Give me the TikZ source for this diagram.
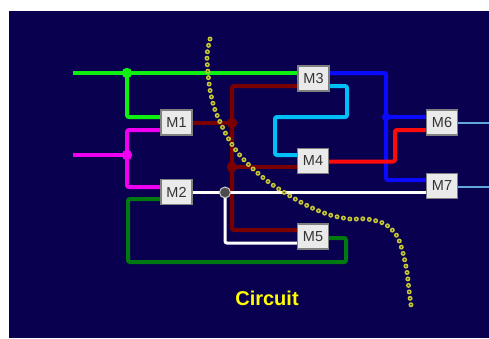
\documentclass[tikz,border=0pt]{standalone}
\usepackage{fontspec}
\setmainfont{Liberation Sans}
\usetikzlibrary{backgrounds}
\definecolor{bg}{HTML}{0A0050}
\definecolor{cgreen}{HTML}{10F010}
\definecolor{cmag}{HTML}{F000F0}
\definecolor{cdred}{HTML}{7A0000}
\definecolor{ccyan}{HTML}{00C0F8}
\definecolor{cblue}{HTML}{0A0AFF}
\definecolor{cred}{HTML}{FF0A0A}
\definecolor{cdgreen}{HTML}{007A10}
\definecolor{cout}{HTML}{60A8D8}
\definecolor{dotyel}{HTML}{C8C83C}
\definecolor{dotin}{HTML}{3C3C00}
\definecolor{boxfill}{HTML}{EAEAEA}
\definecolor{boxline}{HTML}{808080}
\definecolor{cyel}{HTML}{FFFF00}
\tikzset{
  mbox/.style={draw=boxline, line width=1.3pt, fill=boxfill, minimum width=31pt, minimum height=25pt, inner sep=0pt, text=black!80, font=\fontsize{14.5}{16}\selectfont},
  wire/.style={line width=4pt, rounded corners=2pt},
  jdot/.style={circle, inner sep=0pt, minimum size=10.5pt},
  dotpath/.style={line width=5pt, line cap=round, dash pattern=on 0pt off 6.5pt},
}
\begin{document}
\begin{tikzpicture}[x=1pt,y=-1pt]
\useasboundingbox (0,0) rectangle (489,338);

% nodes (boxes)
\node[mbox] (M1) at (176.5,122.5) {M1};
\node[mbox] (M2) at (176.5,192) {M2};
\node[mbox] (M3) at (313.5,78.5) {M3};
\node[mbox] (M4) at (313,161) {M4};
\node[mbox] (M5) at (313,236.5) {M5};
\node[mbox] (M6) at (442,122.5) {M6};
\node[mbox] (M7) at (442,186) {M7};

% coordinates
\coordinate (gin) at (73,73);
\coordinate (jg) at (127,73);
\coordinate (g1) at (127,117);
\coordinate (min) at (73,155);
\coordinate (jm) at (127,155);
\coordinate (m1) at (127,130);
\coordinate (m2) at (127,187);
\coordinate (dg1) at (128,199);
\coordinate (dg2) at (128,262);
\coordinate (dg3) at (346,262);
\coordinate (dg4) at (346,238);
\coordinate (jw) at (225,192.5);
\coordinate (w1) at (225,243);
\coordinate (jr1) at (232,123);
\coordinate (jr2) at (232,167);
\coordinate (r1) at (232,86);
\coordinate (r2) at (232,230);
\coordinate (c1) at (347,86);
\coordinate (c2) at (347,117);
\coordinate (c3) at (275,117);
\coordinate (c4) at (275,155);
\coordinate (b1) at (386,73);
\coordinate (jb) at (386,117);
\coordinate (b2) at (386,180);
\coordinate (rd1) at (395,161.5);
\coordinate (rd2) at (395,130);
\coordinate (o6) at (489,123);
\coordinate (o7) at (489,187);

\begin{pgfonlayer}{background}
\fill[white] (0,0) rectangle (489,338);
\fill[bg] (9,11) rectangle (489,338);
% green
\draw[wire, cgreen, rounded corners=0pt] (gin) -- (jg -| M3.west);
\draw[wire, cgreen] (jg) -- (g1) -- (g1 -| M1.west);
% magenta
\draw[wire, cmag, rounded corners=0pt] (min) -- (jm);
\draw[wire, cmag] (m1 -| M1.west) -- (m1) -- (m2) -- (m2 -| M2.west);
% dark green
\draw[wire, cdgreen] (dg1 -| M2.west) -- (dg1) -- (dg2) -- (dg3) -- (dg4) -- (dg4 -| M5.east);
% dark red
\draw[wire, cdred, rounded corners=0pt] (M1.east |- jr1) -- (jr1);
\draw[wire, cdred] (r1 -| M3.west) -- (r1) -- (r2) -- (r2 -| M5.west);
\draw[wire, cdred, rounded corners=0pt] (jr2) -- (jr2 -| M4.west);
% white
\draw[line width=3pt, white] (M2.east |- jw) -- (jw -| M7.west);
\draw[line width=3pt, white, rounded corners=2pt] (jw) -- (w1) -- (w1 -| M5.west);
% cyan
\draw[wire, ccyan] (c1 -| M3.east) -- (c1) -- (c2) -- (c3) -- (c4) -- (c4 -| M4.west);
% blue
\draw[wire, cblue] (b1 -| M3.east) -- (b1) -- (b2) -- (b2 -| M7.west);
\draw[wire, cblue, rounded corners=0pt] (jb) -- (jb -| M6.west);
% red
\draw[wire, cred] (rd1 -| M4.east) -- (rd1) -- (rd2) -- (rd2 -| M6.west);
% outputs
\draw[line width=1.5pt, cout] (M6.east |- o6) -- (o6);
\draw[line width=1.5pt, cout] (M7.east |- o7) -- (o7);
\end{pgfonlayer}

% junction dots
\node[jdot, fill=cgreen] (dg) at (jg) {};
\node[jdot, fill=cmag] (dm) at (jm) {};
\node[jdot, fill=cdred] (dr1) at (jr1) {};
\node[jdot, fill=cdred] (dr2) at (jr2) {};
\node[jdot, fill=cblue, minimum size=8pt] (db) at (jb) {};
\node[jdot, fill=black!70, draw=white!80!black, line width=1pt, minimum size=11pt] (dw) at (jw) {};

% yellow dotted boundary
\def\curvepts{(210,39) (207,55) (208,73) (210,90) (214,107) (220,122) (228,138) (238,153) (252,168) (270,183) (290,196) (310,207) (330,215) (350,219) (367,219) (385,224) (397,236) (403,253) (407,272) (409,290) (411,305)}
\draw[dotpath, dotyel] plot[smooth, tension=0.5] coordinates {\curvepts};
\draw[dotpath, dotin, line width=1.8pt] plot[smooth, tension=0.5] coordinates {\curvepts};

% label
\node[text=cyel, font=\bfseries\fontsize{20}{24}\selectfont] (lbl) at (267,298) {Circuit};
\end{tikzpicture}
\end{document}
